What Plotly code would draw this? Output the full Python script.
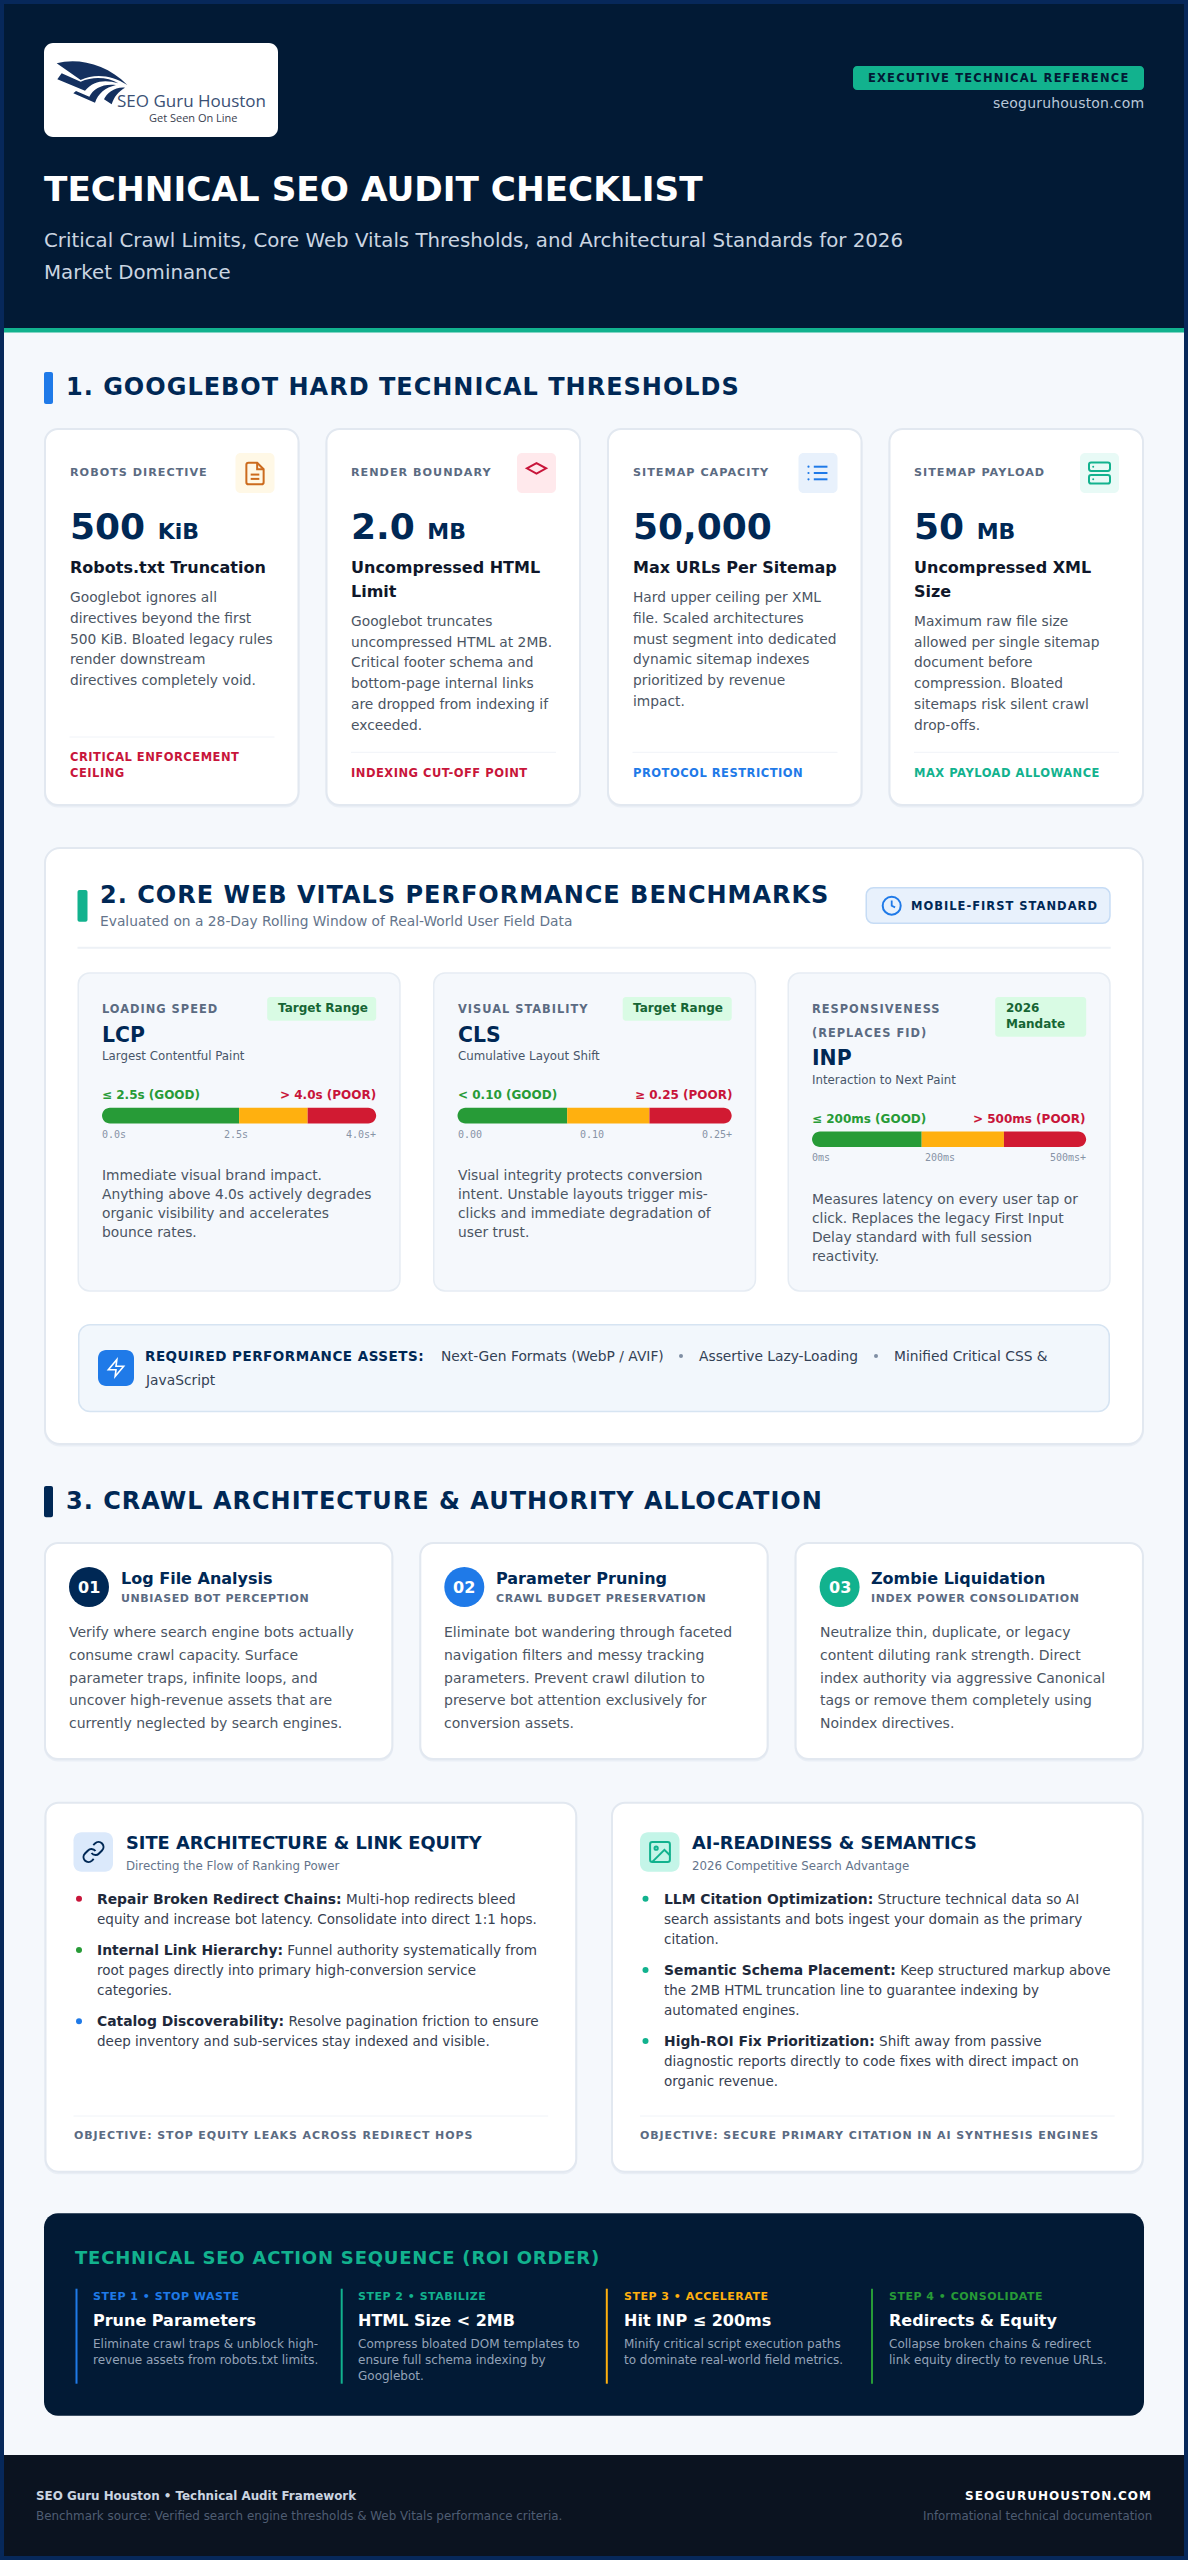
import re
import plotly.graph_objects as go

# ---- text / values ----
TITLE = "TECHNICAL SEO AUDIT CHECKLIST"
SUBTITLE = ["Critical Crawl Limits, Core Web Vitals Thresholds, and Architectural Standards for 2026",
            "Market Dominance"]
HEADER_BADGE = "EXECUTIVE TECHNICAL REFERENCE"
SITE = "seoguruhouston.com"

SECTION_1 = "1. GOOGLEBOT HARD TECHNICAL THRESHOLDS"
LIMIT_LABELS = ["ROBOTS DIRECTIVE", "RENDER BOUNDARY", "SITEMAP CAPACITY", "SITEMAP PAYLOAD"]
LIMIT_VALUES = ["500", "2.0", "50,000", "50"]
LIMIT_UNITS = ["KiB", "MB", "", "MB"]
LIMIT_HEADS = [["Robots.txt Truncation"], ["Uncompressed HTML", "Limit"],
               ["Max URLs Per Sitemap"], ["Uncompressed XML", "Size"]]
LIMIT_BODY = [
    ["Googlebot ignores all", "directives beyond the first", "500 KiB. Bloated legacy rules",
     "render downstream", "directives completely void."],
    ["Googlebot truncates", "uncompressed HTML at 2MB.", "Critical footer schema and",
     "bottom-page internal links", "are dropped from indexing if", "exceeded."],
    ["Hard upper ceiling per XML", "file. Scaled architectures", "must segment into dedicated",
     "dynamic sitemap indexes", "prioritized by revenue", "impact."],
    ["Maximum raw file size", "allowed per single sitemap", "document before",
     "compression. Bloated", "sitemaps risk silent crawl", "drop-offs."],
]
LIMIT_FOOT = [["CRITICAL ENFORCEMENT", "CEILING"], ["INDEXING CUT-OFF POINT"],
              ["PROTOCOL RESTRICTION"], ["MAX PAYLOAD ALLOWANCE"]]

SECTION_2 = "2. CORE WEB VITALS PERFORMANCE BENCHMARKS"
SECTION_2_SUB = "Evaluated on a 28-Day Rolling Window of Real-World User Field Data"
MOBILE_BADGE = "MOBILE-FIRST STANDARD"
VITAL_LABELS = [["LOADING SPEED"], ["VISUAL STABILITY"], ["RESPONSIVENESS", "(REPLACES FID)"]]
VITAL_PILLS = [["Target Range"], ["Target Range"], ["2026", "Mandate"]]
VITAL_NAMES = ["LCP", "CLS", "INP"]
VITAL_FULL = ["Largest Contentful Paint", "Cumulative Layout Shift", "Interaction to Next Paint"]
VITAL_GOOD = ["≤ 2.5s (GOOD)", "&lt; 0.10 (GOOD)", "≤ 200ms (GOOD)"]
VITAL_POOR = ["&gt; 4.0s (POOR)", "≥ 0.25 (POOR)", "&gt; 500ms (POOR)"]
VITAL_ZONES = [[50, 25, 25], [40, 30, 30], [40, 30, 30]]
VITAL_TICKS = [["0.0s", "2.5s", "4.0s+"], ["0.00", "0.10", "0.25+"], ["0ms", "200ms", "500ms+"]]
VITAL_BODY = [
    ["Immediate visual brand impact.", "Anything above 4.0s actively degrades",
     "organic visibility and accelerates", "bounce rates."],
    ["Visual integrity protects conversion", "intent. Unstable layouts trigger mis-",
     "clicks and immediate degradation of", "user trust."],
    ["Measures latency on every user tap or", "click. Replaces the legacy First Input",
     "Delay standard with full session", "reactivity."],
]
ASSETS_HEAD = "REQUIRED PERFORMANCE ASSETS:"
ASSETS = ["Next-Gen Formats (WebP / AVIF)", "Assertive Lazy-Loading", "Minified Critical CSS &"]
ASSETS_WRAP = "JavaScript"

SECTION_3 = "3. CRAWL ARCHITECTURE & AUTHORITY ALLOCATION"
CRAWL_NUMS = ["01", "02", "03"]
CRAWL_TITLES = ["Log File Analysis", "Parameter Pruning", "Zombie Liquidation"]
CRAWL_SUBS = ["UNBIASED BOT PERCEPTION", "CRAWL BUDGET PRESERVATION", "INDEX POWER CONSOLIDATION"]
CRAWL_BODY = [
    ["Verify where search engine bots actually", "consume crawl capacity. Surface",
     "parameter traps, infinite loops, and", "uncover high-revenue assets that are",
     "currently neglected by search engines."],
    ["Eliminate bot wandering through faceted", "navigation filters and messy tracking",
     "parameters. Prevent crawl dilution to", "preserve bot attention exclusively for",
     "conversion assets."],
    ["Neutralize thin, duplicate, or legacy", "content diluting rank strength. Direct",
     "index authority via aggressive Canonical", "tags or remove them completely using",
     "Noindex directives."],
]

PANEL_TITLES = ["SITE ARCHITECTURE & LINK EQUITY", "AI-READINESS & SEMANTICS"]
PANEL_SUBS = ["Directing the Flow of Ranking Power", "2026 Competitive Search Advantage"]
PANEL_BULLETS = [
    [["Repair Broken Redirect Chains:", "Multi-hop redirects bleed",
      "equity and increase bot latency. Consolidate into direct 1:1 hops."],
     ["Internal Link Hierarchy:", "Funnel authority systematically from",
      "root pages directly into primary high-conversion service", "categories."],
     ["Catalog Discoverability:", "Resolve pagination friction to ensure",
      "deep inventory and sub-services stay indexed and visible."]],
    [["LLM Citation Optimization:", "Structure technical data so AI",
      "search assistants and bots ingest your domain as the primary", "citation."],
     ["Semantic Schema Placement:", "Keep structured markup above",
      "the 2MB HTML truncation line to guarantee indexing by", "automated engines."],
     ["High-ROI Fix Prioritization:", "Shift away from passive",
      "diagnostic reports directly to code fixes with direct impact on", "organic revenue."]],
]
PANEL_OBJECTIVES = ["OBJECTIVE: STOP EQUITY LEAKS ACROSS REDIRECT HOPS",
                    "OBJECTIVE: SECURE PRIMARY CITATION IN AI SYNTHESIS ENGINES"]

ACTION_TITLE = "TECHNICAL SEO ACTION SEQUENCE (ROI ORDER)"
STEP_LABELS = ["STEP 1 • STOP WASTE", "STEP 2 • STABILIZE", "STEP 3 • ACCELERATE", "STEP 4 • CONSOLIDATE"]
STEP_HEADS = ["Prune Parameters", "HTML Size &lt; 2MB", "Hit INP ≤ 200ms", "Redirects & Equity"]
STEP_BODY = [
    ["Eliminate crawl traps & unblock high-", "revenue assets from robots.txt limits."],
    ["Compress bloated DOM templates to", "ensure full schema indexing by", "Googlebot."],
    ["Minify critical script execution paths", "to dominate real-world field metrics."],
    ["Collapse broken chains & redirect", "link equity directly to revenue URLs."],
]
FOOT_LEFT = ["SEO Guru Houston • Technical Audit Framework",
             "Benchmark source: Verified search engine thresholds & Web Vitals performance criteria."]
FOOT_RIGHT = ["SEOGURUHOUSTON.COM", "Informational technical documentation"]

# ---- styles ----
SANS = "DejaVu Sans"
MONO = "DejaVu Sans Mono"
NAVY = "#002855"
FRAME = "#07285a"
DARK = "#021a35"
PAGE = "#f5f8fc"
BLUE = "#1f7ae8"
TEAL = "#12b28e"
AMBER = "#ffb00f"
RED = "#c8153a"
GREEN = "#279b37"
BORDER = "#e2e8f0"
SLATE = "#5b6b82"
BODY = "#4b5563"

shapes = []
notes = []


def T(x, y, text, size, color, bold=False, anchor="left", ls=0, family=SANS):
    if ls:
        text = f'<span style="letter-spacing:{ls}px">{text}</span>'
    notes.append(dict(x=x, y=y, text=text, showarrow=False, xanchor=anchor, yanchor="middle",
                      align=anchor, borderpad=0, borderwidth=0,
                      font=dict(family=family, size=size, color=color, weight=700 if bold else 400)))


def rr_path(x0, y0, x1, y1, r, left=True, right=True):
    rl = r if left else 0
    rr = r if right else 0
    k = 0.45
    p = f"M{x0 + rl} {y0} L{x1 - rr} {y0} "
    if rr:
        p += f"C{x1 - rr * k} {y0} {x1} {y0 + rr * k} {x1} {y0 + rr} L{x1} {y1 - rr} "
        p += f"C{x1} {y1 - rr * k} {x1 - rr * k} {y1} {x1 - rr} {y1} "
    else:
        p += f"L{x1} {y1} "
    p += f"L{x0 + rl} {y1} "
    if rl:
        p += f"C{x0 + rl * k} {y1} {x0} {y1 - rl * k} {x0} {y1 - rl} L{x0} {y0 + rl} "
        p += f"C{x0} {y0 + rl * k} {x0 + rl * k} {y0} {x0 + rl} {y0} "
    else:
        p += f"L{x0} {y0} "
    return p + "Z"


def box(x0, y0, x1, y1, r=0, fill=None, line=None, lw=0, left=True, right=True):
    # css style border: drawn inside the outer edge
    inset = lw / 2 if line else 0
    path = rr_path(x0 + inset, y0 + inset, x1 - inset, y1 - inset, max(r - inset, 0), left, right)
    shapes.append(dict(type="path", path=path, fillcolor=fill or "rgba(0,0,0,0)",
                       line=dict(color=line, width=lw) if line else dict(width=0)))


def card(x0, y0, x1, y1, r, fill="#ffffff", line=BORDER, lw=2):
    box(x0, y0 + 1.5, x1, y1 + 1.5, r, fill="#e9eef5")
    box(x0, y0, x1, y1, r, fill=fill, line=line, lw=lw)


def hline(x0, x1, y, color, lw=1):
    shapes.append(dict(type="line", x0=x0, x1=x1, y0=y, y1=y, line=dict(color=color, width=lw)))


def vline(x, y0, y1, color, lw=2):
    shapes.append(dict(type="line", x0=x, x1=x, y0=y0, y1=y1, line=dict(color=color, width=lw)))


def dot(cx, cy, r, fill=None, line=None, lw=0):
    shapes.append(dict(type="circle", x0=cx - r, x1=cx + r, y0=cy - r, y1=cy + r,
                       fillcolor=fill or "rgba(0,0,0,0)",
                       line=dict(color=line, width=lw) if line else dict(width=0)))


def scale_path(path, cx, cy, s, w=12, h=12):
    # path written in a 24x24 icon box, moved to centre cx, cy
    out = []
    i = 0
    for tok in re.findall(r"[MLCZ]|-?\d+\.?\d*", path):
        if tok in "MLCZ":
            out.append(tok)
            i = 0
        else:
            v = float(tok)
            out.append(f"{(cx + (v - w) * s) if i % 2 == 0 else (cy + (v - h) * s):.2f}")
            i += 1
    return " ".join(out)


def icon(paths, cx, cy, s, color, lw=2, fill=None):
    for p in paths:
        shapes.append(dict(type="path", path=scale_path(p, cx, cy, s),
                           fillcolor=fill or "rgba(0,0,0,0)", line=dict(color=color, width=lw)))


ROUND_TOP = "M4 2 L20 2 C21.2 2 22 2.8 22 4 L22 8 C22 9.2 21.2 10 20 10 L4 10 C2.8 10 2 9.2 2 8 L2 4 C2 2.8 2.8 2 4 2 Z"
ROUND_BOT = "M4 14 L20 14 C21.2 14 22 14.8 22 16 L22 20 C22 21.2 21.2 22 20 22 L4 22 C2.8 22 2 21.2 2 20 L2 16 C2 14.8 2.8 14 4 14 Z"
ICON_DOC = ["M14 2 L6 2 C4.8 2 4 2.8 4 4 L4 20 C4 21.2 4.8 22 6 22 L18 22 C19.2 22 20 21.2 20 20 L20 8 Z",
            "M14 2 L14 8 L20 8", "M16 13 L8 13", "M16 17 L8 17"]
ICON_DIAMOND = ["M1 12 L12 6 L23 12 L12 18 Z"]
ICON_LIST = ["M8 6 L21 6", "M8 12 L21 12", "M8 18 L21 18"]
ICON_SERVER = [ROUND_TOP, ROUND_BOT]
ICON_HANDS = ["M12 6 L12 12 L16 14"]
ICON_BOLT = ["M13 2 L3 14 L12 14 L11 22 L21 10 L12 10 L13 2 Z"]
ICON_LINK = ["M10 13 C11 14.3 12.5 15 14 15.1 C15.5 15.2 16.5 14.6 17.5 13.5 L20.5 10.5 C22.5 8.5 22.4 5.5 20.6 3.5 C18.6 1.5 15.5 1.5 13.5 3.4 L11.8 5.1",
             "M14 11 C13 9.7 11.5 9 10 8.9 C8.5 8.8 7.5 9.4 6.5 10.5 L3.5 13.5 C1.5 15.5 1.6 18.5 3.4 20.5 C5.4 22.5 8.5 22.5 10.5 20.6 L12.2 18.9"]
ICON_IMAGE = ["M5 3 L19 3 C20.2 3 21 3.8 21 5 L21 19 C21 20.2 20.2 21 19 21 L5 21 C3.8 21 3 20.2 3 19 L3 5 C3 3.8 3.8 3 5 3 Z",
              "M21 15 L16 10 L5 21"]

# ---- page frame + header ----
box(4, 4, 1184, 2556, fill=PAGE)
box(4, 4, 1184, 328, fill=DARK)
box(4, 328, 1184, 332.5, fill=TEAL)

box(44, 43, 278, 137, 9, fill="#ffffff")
LOGO = ["M50 70 C110 52 200 70 262 135 C215 105 165 100 122 120 L50 70 Z",
        "M52 118 L65 100 L122 125 C160 108 205 112 235 130 C195 118 160 122 135 152 L52 118 Z",
        "M100 160 L108 153 L148 170 C160 145 190 130 228 135 C195 143 175 160 165 188 L100 160 Z",
        "M192 178 C200 160 225 140 255 143 C235 155 222 170 215 193 L192 178 Z"]
for p in LOGO:
    shapes.append(dict(type="path", path=scale_path(p, 40, 40, 1 / 3, 0, 0), fillcolor="#14305f", line=dict(width=0)))
T(116.5, 100.7, "SEO Guru Houston", 17, "#3a5074", family="Open Sans")
T(149, 117, "Get Seen On Line", 11, "#3a4150", family="Open Sans")

box(853, 66, 1144, 90, 4, fill=TEAL)
T(998.5, 78, HEADER_BADGE, 11.5, DARK, bold=True, anchor="center", ls=1.2)
T(1144, 103, SITE, 14, "#b9c7d8", anchor="right", ls=0.2)
T(44, 189, TITLE, 34.3, "#ffffff", bold=True)
T(44, 240.7, SUBTITLE[0], 19.8, "#cbd5e1")
T(44, 272.7, SUBTITLE[1], 19.8, "#cbd5e1")

# ---- section 1 ----
box(44, 372, 53, 404, 2, fill=BLUE)
T(65.5, 387, SECTION_1, 24, NAVY, bold=True, ls=1)

card_w, gap = 255.5, 26
tile_fill = ["#fff8e6", "#ffe9ec", "#e8f1fc", "#e8faf6"]
foot_color = [RED, RED, BLUE, TEAL]
for i in range(4):
    x0 = 44 + i * (card_w + gap)
    x1 = x0 + card_w
    card(x0, 428, x1, 806, 14)
    tx = x0 + 25.5
    T(tx, 472.7, LIMIT_LABELS[i], 11.2, SLATE, bold=True, ls=1)
    box(x1 - 64, 453, x1 - 25, 493, 5, fill=tile_fill[i])
    ix = x1 - 44.5
    if i == 0:
        icon(ICON_DOC, ix, 473.5, 1.08, "#cc6b1e")
    elif i == 1:
        icon(ICON_DIAMOND, ix, 468.3, 0.875, RED)
    elif i == 2:
        icon(ICON_LIST, ix, 473, 1.05, BLUE)
        for dy in (-6, 0, 6):
            dot(ix - 9.5, 473 + dy * 1.05, 1.1, fill=BLUE)
    else:
        icon(ICON_SERVER, ix, 473, 1.05, TEAL)
        for dy in (-6, 6):
            dot(ix - 6.3, 473 + dy * 1.05, 1, fill=TEAL)
    val = LIMIT_VALUES[i]
    if LIMIT_UNITS[i]:
        val += f' <span style="font-size:22px">{LIMIT_UNITS[i]}</span>'
    T(tx, 526.7, val, 36, NAVY, bold=True)
    y = 567.7
    for line in LIMIT_HEADS[i]:
        T(tx, y, line, 16, "#0f172a", bold=True)
        y += 23.6
    y += 29.5 - 23.6
    for line in LIMIT_BODY[i]:
        T(tx, y, line, 13.8, BODY)
        y += 20.75
    hline(tx, x1 - 25, 737 if len(LIMIT_FOOT[i]) > 1 else 752.3, "#f0f3f8")
    fy = 772.7 - 16 * (len(LIMIT_FOOT[i]) - 1)
    for line in LIMIT_FOOT[i]:
        T(tx, fy, line, 11.5, foot_color[i], bold=True, ls=0.5)
        fy += 16

# ---- section 2 ----
card(44, 847, 1144, 1445, 16)
box(77.5, 890, 87.5, 921.7, 2, fill=TEAL)
T(99.5, 895, SECTION_2, 24, NAVY, bold=True, ls=1)
T(99.5, 921, SECTION_2_SUB, 13.8, "#64748b")
box(865.5, 887, 1110.7, 924, 8, fill="#e8f1fc", line="#c6dcf5", lw=1.5)
dot(891.7, 905.7, 9, line=BLUE, lw=2)
icon(ICON_HANDS, 891.7, 905.7, 0.85, BLUE, lw=1.8)
T(910.5, 905.7, MOBILE_BADGE, 11.5, NAVY, bold=True, ls=1)
hline(77.5, 1110.7, 947.7, "#edf1f6", lw=2)

vital_x = [77.5, 433, 787.5]
vital_w = 323.2
for i in range(3):
    x0 = vital_x[i]
    x1 = x0 + vital_w
    box(x0, 972.3, x1, 1291.7, 12, fill=PAGE, line="#e6ecf3", lw=1.5)
    tx, rx = x0 + 24.5, x1 - 24.5
    # INP label wraps onto a second line and pushes the rest down
    shift = 23.7 * (len(VITAL_LABELS[i]) - 1)
    ly = 1009.3
    for line in VITAL_LABELS[i]:
        T(tx, ly, line, 11.4, SLATE, bold=True, ls=1)
        ly += 23.7
    pill_x0 = rx - 109 if len(VITAL_PILLS[i]) == 1 else rx - 91
    box(pill_x0, 997, rx, 1020.7 + 16 * (len(VITAL_PILLS[i]) - 1), 3, fill="#d9fbe4")
    py = 1008.3
    for line in VITAL_PILLS[i]:
        T(pill_x0 + 10.5, py, line, 12, "#166534", bold=True)
        py += 16
    T(tx, 1034.7 + shift, VITAL_NAMES[i], 20.4, NAVY, bold=True)
    T(tx, 1056 + shift, VITAL_FULL[i], 11.8, "#475569")
    T(tx, 1095.3 + shift, VITAL_GOOD[i], 12, GREEN, bold=True)
    T(rx, 1095.3 + shift, VITAL_POOR[i], 12, RED, bold=True, anchor="right")
    # threshold gauge, zone widths from VITAL_ZONES
    by0, by1 = 1107.7 + shift, 1123.4 + shift
    a = rx - tx
    cuts = [tx, tx + a * VITAL_ZONES[i][0] / 100, tx + a * sum(VITAL_ZONES[i][:2]) / 100, rx]
    box(cuts[0], by0, cuts[1], by1, 8, fill=GREEN, right=False)
    box(cuts[1], by0, cuts[2], by1, fill=AMBER, left=False, right=False)
    box(cuts[2], by0, cuts[3], by1, 8, fill="#d11a32", left=False)
    tick_y = 1134 + shift
    ticks = VITAL_TICKS[i]
    T(tx, tick_y, ticks[0], 10, "#8793a6", family=MONO)
    # flex space-between: free space is split evenly, 6.02 px per mono char at 10px
    w_chars = [len(t) * 6.02 for t in ticks]
    free = (a - sum(w_chars)) / 2
    T(tx + w_chars[0] + free, tick_y, ticks[1], 10, "#8793a6", family=MONO)
    T(rx, tick_y, ticks[2], 10, "#8793a6", anchor="right", family=MONO)
    dy = 1175 + shift
    for line in VITAL_BODY[i]:
        T(tx, dy, line, 13.8, BODY)
        dy += 19.1

box(78, 1324, 1110, 1412.3, 12, fill="#f2f7fc", line="#d6e4f2", lw=1.5)
box(98, 1350, 134, 1386, 8, fill=BLUE)
icon(ICON_BOLT, 116, 1368, 0.85, "#ffffff", lw=1.6)
T(145, 1356.3, ASSETS_HEAD, 13.5, NAVY, bold=True, ls=0.5)
asset_x = [440.6, 699, 894]
for x, s in zip(asset_x, ASSETS):
    T(x, 1356.3, s, 13.8, "#334155")
dot(681, 1356, 2, fill="#7f8ea3")
dot(876, 1356, 2, fill="#7f8ea3")
T(145, 1380.3, ASSETS_WRAP, 13.8, "#334155")

# ---- section 3 ----
box(44, 1486, 53, 1517.3, 2, fill=NAVY)
T(65.5, 1501, SECTION_3, 24, NAVY, bold=True, ls=1)

crawl_w = 349.3
crawl_colors = [NAVY, BLUE, TEAL]
for i in range(3):
    x0 = 44 + i * (crawl_w + 26)
    card(x0, 1542, x0 + crawl_w, 1760, 14)
    tx = x0 + 25
    dot(tx + 20, 1587, 20, fill=crawl_colors[i])
    T(tx + 20, 1587, CRAWL_NUMS[i], 16, "#ffffff", bold=True, anchor="center")
    T(tx + 51.5, 1578.3, CRAWL_TITLES[i], 16, NAVY, bold=True)
    T(tx + 51.5, 1598.3, CRAWL_SUBS[i], 11, SLATE, bold=True, ls=0.6)
    y = 1632.3
    for line in CRAWL_BODY[i]:
        T(tx, y, line, 14, BODY)
        y += 22.6

panel_x = [44.5, 611]
panel_w = 532.7
tile_colors = ["#dbe9fb", "#c4f5e8"]
dot_colors = [[RED, GREEN, BLUE], [TEAL, TEAL, TEAL]]
for i in range(2):
    x0 = panel_x[i]
    card(x0, 1801.7, x0 + panel_w, 2172.7, 14)
    tx = x0 + 29
    box(tx, 1832.3, tx + 39.5, 1871.7, 8, fill=tile_colors[i])
    if i == 0:
        icon(ICON_LINK, tx + 20, 1852, 1.0, NAVY, lw=2)
    else:
        icon(ICON_IMAGE, tx + 20, 1852, 1.1, TEAL, lw=2)
        dot(tx + 20 - 3.85, 1852 - 3.85, 1.6, line=TEAL, lw=2)
    T(tx + 52, 1842.7, PANEL_TITLES[i], 17.8, NAVY, bold=True)
    T(tx + 52, 1865.7, PANEL_SUBS[i], 11.8, "#64748b")
    y = 1898.7
    for k, bullet in enumerate(PANEL_BULLETS[i]):
        dot(tx + 5.5, y, 3, fill=dot_colors[i][k])
        head = f'<span style="color:#1e293b;font-size:13.9px"><b>{bullet[0]}</b></span>'
        T(tx + 23.5, y, f"{head} {bullet[1]}", 13.6, "#374151")
        y += 20
        for line in bullet[2:]:
            T(tx + 23.5, y, line, 13.5, "#374151")
            y += 19.9
        y += 11.4
    hline(tx, x0 + panel_w - 29, 2116, "#f0f3f8")
    T(tx, 2135.7, PANEL_OBJECTIVES[i], 11, SLATE, bold=True, ls=0.9)

# ---- action sequence ----
box(44, 2213.3, 1144, 2415.7, 14, fill=DARK)
T(75, 2257.7, ACTION_TITLE, 18, TEAL, bold=True, ls=0.8)
step_x = [76.5, 341.7, 606.8, 872]
step_colors = [BLUE, TEAL, AMBER, GREEN]
for i in range(4):
    vline(step_x[i], 2288.7, 2383.7, step_colors[i])
    tx = step_x[i] + 16.7
    T(tx, 2296.3, STEP_LABELS[i], 11, step_colors[i], bold=True, ls=0.5)
    T(tx, 2320, STEP_HEADS[i], 16, "#ffffff", bold=True)
    y = 2344
    for line in STEP_BODY[i]:
        T(tx, y, line, 12, "#94a3b8")
        y += 16

# ---- footer ----
box(4, 2455, 1184, 2556, fill="#0b1320")
T(35.6, 2496.3, FOOT_LEFT[0], 11.9, "#cbd5e1", bold=True)
T(35.6, 2516, FOOT_LEFT[1], 11.9, "#4f5d73")
T(1151.5, 2496.3, FOOT_RIGHT[0], 12, "#ffffff", bold=True, anchor="right", ls=1.05)
T(1151.5, 2516, FOOT_RIGHT[1], 11.8, "#4f5d73", anchor="right")

fig = go.Figure()
fig.update_layout(
    width=1188, height=2560, autosize=False,
    margin=dict(l=0, r=0, t=0, b=0, pad=0),
    paper_bgcolor=FRAME, plot_bgcolor=FRAME, showlegend=False,
    xaxis=dict(range=[0, 1188], visible=False, fixedrange=True),
    yaxis=dict(range=[2560, 0], visible=False, fixedrange=True),
    shapes=shapes, annotations=notes,
)
fig.write_html("out.html", config={"displayModeBar": False, "responsive": False},
               post_script="document.body.style.margin='0';")
